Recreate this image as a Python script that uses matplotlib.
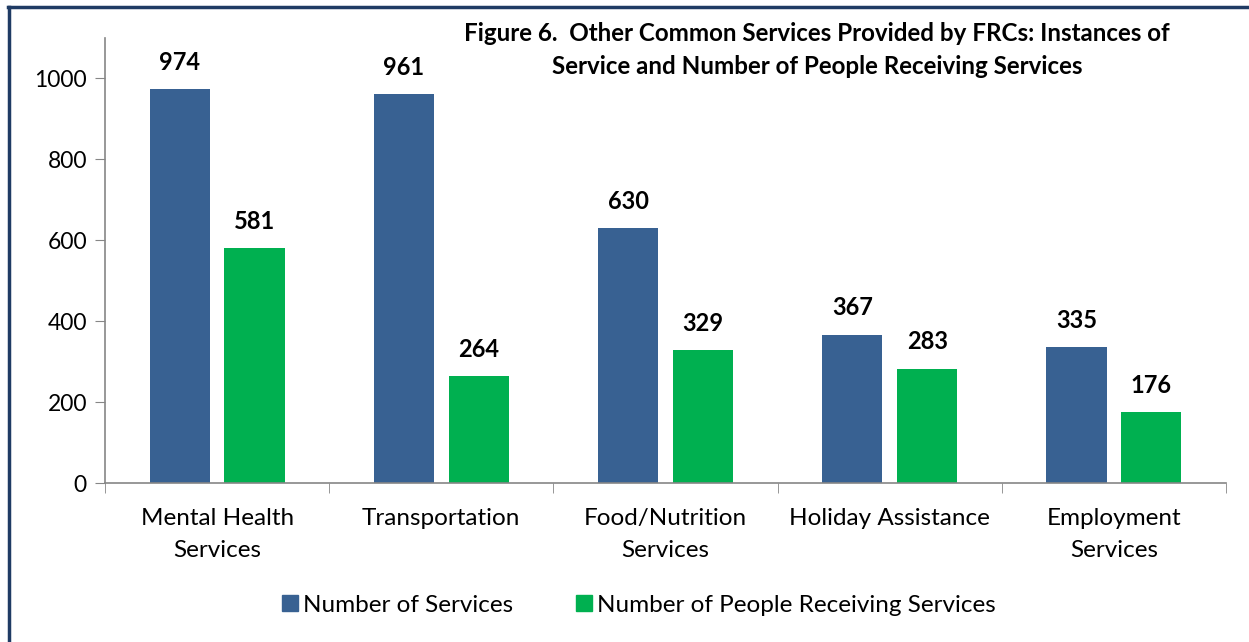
import numpy as np
import matplotlib.pyplot as plt
from matplotlib.lines import Line2D

plt.rcParams['font.family'] = ['Lato', 'DejaVu Sans']

# data
categories = ['Mental Health\nServices', 'Transportation', 'Food/Nutrition\nServices',
              'Holiday Assistance', 'Employment\nServices']
n_services = [974, 961, 630, 367, 335]
n_people = [581, 264, 329, 283, 176]
series_names = ['Number of Services', 'Number of People Receiving Services']

blue = '#386192'
green = '#00B050'
spine_gray = '#868686'

fig = plt.figure(figsize=(12.49, 6.42), dpi=100)
ax = fig.add_axes([105 / 1249, 1 - 483 / 642, 1121 / 1249, 445 / 642])

x = np.arange(len(categories))
width = 0.268
off = 0.167
b1 = ax.bar(x - off, n_services, width, color=blue, label=series_names[0])
b2 = ax.bar(x + off, n_people, width, color=green, label=series_names[1])

for bars in (b1, b2):
    for rect in bars:
        h = rect.get_height()
        ax.annotate(f'{h:d}', (rect.get_x() + rect.get_width() / 2, h),
                    xytext=(0, 11), textcoords='offset points',
                    ha='center', va='bottom', fontsize=17, fontweight='bold')

ax.set_xlim(-0.5, len(categories) - 0.5)
ax.set_ylim(0, 1100)
ax.set_yticks(np.arange(0, 1001, 200))
ax.tick_params(axis='y', labelsize=16.5, length=7, color=spine_gray, pad=6)

# category labels centred, ticks at boundaries
ax.set_xticks(x)
ax.set_xticklabels(categories, fontsize=17.5, linespacing=1.62)
ax.tick_params(axis='x', length=0, pad=18)
ax.set_xticks(np.arange(-0.5, len(categories)), minor=True)
ax.tick_params(axis='x', which='minor', length=7, color=spine_gray)

for s in ('top', 'right'):
    ax.spines[s].set_visible(False)
for s in ('left', 'bottom'):
    ax.spines[s].set_color(spine_gray)
    ax.spines[s].set_linewidth(1.2)

fig.text(817 / 1249, 1 - 50 / 642,
         'Figure 6.  Other Common Services Provided by FRCs: Instances of\n'
         'Service and Number of People Receiving Services',
         ha='center', va='center', fontsize=17.4, fontweight='bold', linespacing=1.5)

handles = [Line2D([], [], marker='s', linestyle='none', markersize=12, color=blue),
           Line2D([], [], marker='s', linestyle='none', markersize=12, color=green)]
fig.legend(handles, series_names, loc='center', bbox_to_anchor=(637 / 1249, 1 - 605 / 642),
           ncol=2, frameon=False, fontsize=17.5, handletextpad=0.05, columnspacing=2.4,
           handlelength=1.0)

# dark blue border on left and top edges
border = '#1F3B64'
fig.add_artist(Line2D([9 / 1249, 9 / 1249], [0, 1 - 7 / 642], color=border, lw=2.5,
                      transform=fig.transFigure))
fig.add_artist(Line2D([8 / 1249, 1], [1 - 7 / 642, 1 - 7 / 642], color=border, lw=2.5,
                      transform=fig.transFigure))

fig.savefig('out.png', dpi=100)
